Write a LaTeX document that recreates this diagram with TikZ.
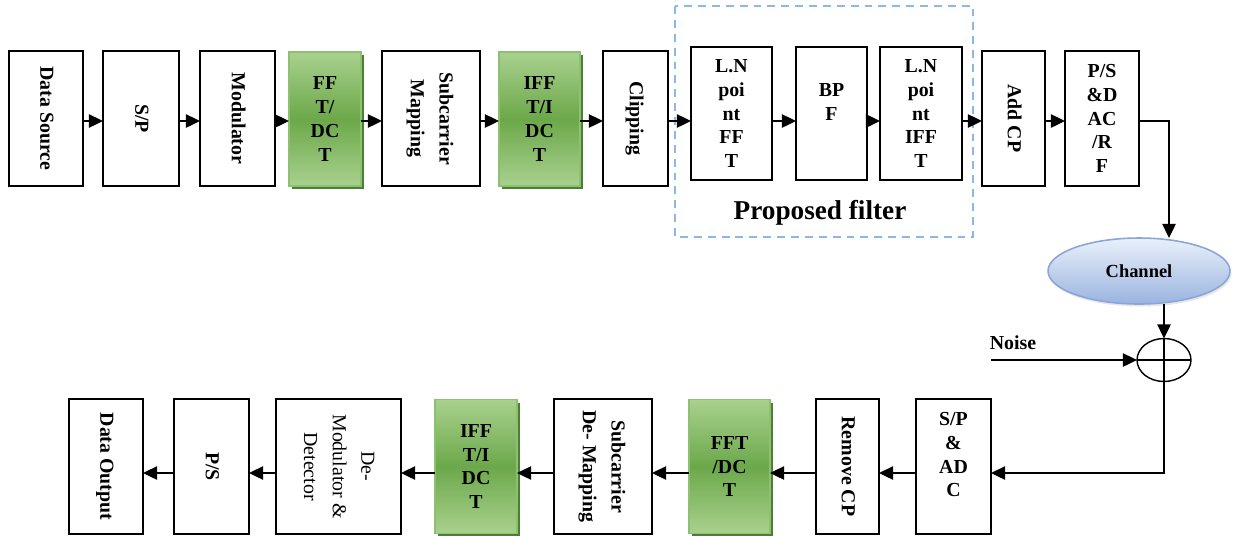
\documentclass[tikz,border=0pt]{standalone}
\usepackage{fontspec}
\setmainfont{Liberation Serif}
\usepackage{tikz}
\usetikzlibrary{arrows.meta,shapes.geometric,shadows}

\definecolor{grnL}{HTML}{A9D18E}
\definecolor{grnD}{HTML}{6CA84A}
\definecolor{grnB}{HTML}{8DC070}
\definecolor{grnS}{HTML}{4E7E34}
\definecolor{chTop}{HTML}{EAF0FA}
\definecolor{chBot}{HTML}{9AB4E0}
\definecolor{chBd}{HTML}{8AA6D6}
\definecolor{dashBl}{HTML}{8DB8E4}

\newcommand{\vtext}[1]{\rotatebox{-90}{\def\arraystretch{1.2}\begin{tabular}{@{}c@{}}#1\end{tabular}}}

\begin{document}
\begin{tikzpicture}[x=0.02cm, y=-0.02cm,
  every node/.style={font=\fontsize{11.3}{13.6}\selectfont\bfseries, align=center, inner sep=0pt, outer sep=0pt},
  box/.style={draw, line width=0.9pt, minimum height=2.7cm},
  fbox/.style={draw, line width=0.9pt, minimum height=2.66cm},
  gbox/.style={draw=grnB, line width=0.9pt, minimum height=2.68cm, top color=grnL, bottom color=grnL, middle color=grnD,
    drop shadow={shadow xshift=0.06cm, shadow yshift=-0.06cm, fill=grnS, opacity=1}},
  arr/.style={line width=1.1pt, -{Triangle[length=8pt,width=7.5pt]}}]
\useasboundingbox (0,0) rectangle (1233,535);

\coordinate (top) at (0,121);
\coordinate (bot) at (0,473);

\node[box, minimum width=1.48cm] (src) at (46,118.5) {\vtext{Data Source}};
\node[box, minimum width=1.52cm] (sp) at (141,118.5) {\vtext{S/P}};
\node[box, minimum width=1.50cm] (mod) at (237.5,118.5) {\vtext{Modulator}};
\node[gbox, minimum width=1.44cm] (fft) at (325,119) {FF\\T/\\DC\\T};
\node[box, minimum width=1.96cm] (map) at (431,118.5) {\vtext{Subcarrier\\Mapping}};
\node[gbox, minimum width=1.62cm] (ifft) at (539.5,119) {IFF\\T/I\\DC\\T};
\node[box, minimum width=1.30cm] (clip) at (635.5,118.5) {\vtext{Clipping}};
\node[fbox, minimum width=1.62cm] (lnfft) at (731.5,113.5) {L.N\\poi\\nt\\FF\\T};
\node[fbox, minimum width=1.42cm] (bpf) at (831.5,113.5) {BP\\F\\\mbox{}};
\node[fbox, minimum width=1.64cm] (lnifft) at (921,113.5) {L.N\\poi\\nt\\IFF\\T};
\node[box, minimum width=1.26cm] (addcp) at (1013.5,118.5) {\vtext{Add CP}};
\node[box, minimum width=1.48cm] (ps) at (1102,118.5) {P/S\\\&D\\AC\\/R\\F};

\draw[dashBl, line width=1pt, dash pattern=on 4.5pt off 3.4pt] (675,6) rectangle (973,237);
\node[font=\fontsize{15.5}{18}\selectfont\bfseries] (pf) at (820,213) {Proposed filter};

\node[ellipse, draw=chBd, line width=0.9pt, minimum width=3.64cm, minimum height=1.32cm, top color=chTop, bottom color=chBot,
  drop shadow={shadow xshift=0.03cm, shadow yshift=-0.05cm, opacity=0.2}] (chan) at (1139,271) {\fontsize{10.5}{12}\selectfont Channel};
\coordinate (chtop) at (1169,238);

\node[ellipse, draw, line width=0.8pt, minimum width=1.08cm, minimum height=0.86cm] (sum) at (1164,360) {};
\draw[line width=0.8pt] (sum.north) -- (sum.south) (sum.west) -- (sum.east);

\node (noise) at (1013,343) {Noise};
\coordinate (nz) at (991,360);

\node[box, minimum width=1.50cm] (spadc) at (953.5,466.5) {S/P\\\&\\AD\\C\\\mbox{}};
\node[box, minimum width=1.26cm] (rmcp) at (847.5,466.5) {\vtext{Remove CP}};
\node[gbox, minimum width=1.62cm] (fft2) at (729.5,466.5) {FFT\\/DC\\T};
\node[box, minimum width=1.96cm] (demap) at (603,466.5) {\vtext{Subcarrier\\De- Mapping}};
\node[gbox, minimum width=1.64cm] (ifft2) at (476,466.5) {IFF\\T/I\\DC\\T};
\node[box, minimum width=2.50cm, font=\fontsize{11.3}{13.6}\selectfont] (demod) at (338.5,466.5) {\vtext{De-\\Modulator \&\\Detector}};
\node[box, minimum width=1.50cm] (bps) at (211.5,466.5) {\vtext{P/S}};
\node[box, minimum width=1.48cm] (out) at (106,466.5) {\vtext{Data Output}};

\foreach \a/\b in {src/sp, sp/mod, mod/fft, fft/map, map/ifft, ifft/clip, clip/lnfft, lnfft/bpf, bpf/lnifft, lnifft/addcp, addcp/ps}
  \draw[arr] (\a.east |- top) -- (\b.west |- top);

\draw[arr] (ps.east |- top) -| (chtop);
\draw[arr] (chan.south -| sum.north) -- (sum.north);
\draw[arr] (nz) -- (sum.west);
\draw[arr] (sum.south) |- (spadc.east |- bot);

\foreach \a/\b in {spadc/rmcp, rmcp/fft2, fft2/demap, demap/ifft2, ifft2/demod, demod/bps, bps/out}
  \draw[arr] (\a.west |- bot) -- (\b.east |- bot);
\end{tikzpicture}
\end{document}
